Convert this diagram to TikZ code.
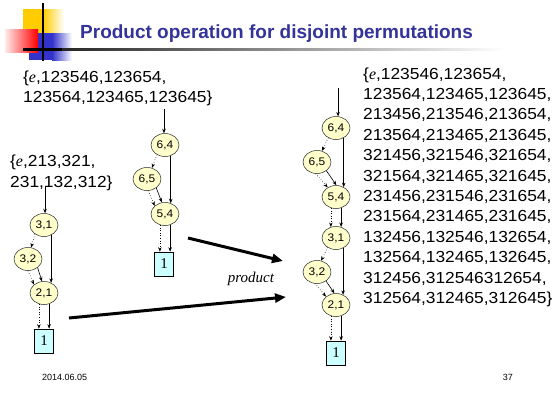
\documentclass[tikz,border=0pt]{standalone}
\usepackage{fontspec}
\setmainfont{Liberation Sans}
\newfontfamily\bodyfont[FakeStretch=1.085]{Liberation Sans}
\newfontfamily\serifrm{Liberation Serif}
\usetikzlibrary{shapes.geometric,arrows.meta,calc}

\definecolor{titleblue}{HTML}{333399}
\definecolor{pairfill}{HTML}{FFFFCC}
\definecolor{leaffill}{HTML}{CCFFFF}
\definecolor{decoyellow}{HTML}{FFCC00}
\definecolor{decored}{HTML}{FF0000}
\definecolor{decoblue}{HTML}{3333CC}

\newcommand{\ite}{{\serifrm\itshape e}}

\tikzset{
  pair/.style={ellipse, draw=black!85, line width=0.5pt, fill=pairfill,
    minimum width=28pt, minimum height=23pt, inner sep=0pt,
    font=\bodyfont\fontsize{11}{11}\selectfont},
  leaf/.style={rectangle, draw=black, line width=0.6pt, fill=leaffill,
    minimum width=19pt, minimum height=24pt, inner sep=0pt,
    font=\serifrm\fontsize{15}{15}\selectfont},
  hiedge/.style={-{Stealth[length=4.5pt,width=3.5pt]}, line width=0.6pt},
  loedge/.style={hiedge, dotted},
  bigarrow/.style={-{Triangle[length=11pt,width=9pt]}, line width=3pt},
  settext/.style={anchor=base west, inner sep=0pt,
    font=\bodyfont\fontsize{16}{16}\selectfont},
  footer/.style={inner sep=0pt, font=\fontsize{9}{9}\selectfont},
}

\begin{document}
\begin{tikzpicture}[x=1pt, y=-1pt]
\useasboundingbox (0,0) rectangle (557,394);
\fill[white] (0,0) rectangle (557,394);

% title block decoration
\fill[decoyellow] (23,9) rectangle (43,33);
\shade[left color=decoyellow, right color=white] (43,9) rectangle (64,33);
\fill[decoblue] (29,33) rectangle (52,60);
\shade[left color=decoblue, right color=white] (52,33) rectangle (72,60);
\shade[left color=decored!8, right color=decored] (5,29) rectangle (38,52);
\fill[black] (23,48) rectangle (62,50.5);
\shade[left color=black!85, right color=white] (62,48) rectangle (505,50.5);
\draw[line width=1.3pt] (43,3) -- (43,61);

\node[anchor=base west, inner sep=0pt, text=titleblue,
  font=\bfseries\fontsize{19}{19}\selectfont] (title) at (80,38)
  {Product operation for disjoint permutations};

% sets of permutations
\node[settext] (a1) at (23,82) {\{\ite,123546,123654,};
\node[settext] (a2) at (23,102.5) {123564,123465,123645\}};
\node[settext] (b1) at (10,166) {\{\ite,213,321,};
\node[settext] (b2) at (10,187) {231,132,312\}};

\node[settext] (c1) at (363,79) {\{\ite,123546,123654,};
\node[settext] (c2) at (363,99.4) {123564,123465,123645,};
\node[settext] (c3) at (363,119.8) {213456,213546,213654,};
\node[settext] (c4) at (363,140.2) {213564,213465,213645,};
\node[settext] (c5) at (363,160.6) {321456,321546,321654,};
\node[settext] (c6) at (363,181) {321564,321465,321645,};
\node[settext] (c7) at (363,201.4) {231456,231546,231654,};
\node[settext] (c8) at (363,221.8) {231564,231465,231645,};
\node[settext] (c9) at (363,242.2) {132456,132546,132654,};
\node[settext] (c10) at (363,262.6) {132564,132465,132645,};
\node[settext] (c11) at (363,283) {312456,312546312654,};
\node[settext] (c12) at (363,303.4) {312564,312465,312645\}};

% diagram of S3
\node[pair] (l31) at (44,225) {3,1};
\node[pair] (l32) at (28,259) {3,2};
\node[pair] (l21) at (44,293) {2,1};
\node[leaf] (l1) at (44,341) {1};
\path (l31.85) ++(0,-27) coordinate (lin);
\draw[hiedge] (lin) -- (l31.85);
\draw[loedge] (l31.-135) -- (l32.75);
\draw[hiedge] (l31.-55) -- (l21.55);
\draw[loedge] (l32.-90) -- (l21.140);
\draw[hiedge] (l32.-42) -- (l21.100);
\draw[loedge] (l21.-115) -- (l21.-115 |- l1.north);
\draw[hiedge] (l21.-65) -- (l21.-65 |- l1.north);

% diagram of the permutations of 4,5,6
\node[pair] (m64) at (165,145) {6,4};
\node[pair] (m65) at (147,179) {6,5};
\node[pair] (m54) at (165,214) {5,4};
\node[leaf] (m1) at (164,264) {1};
\path (m64.95) ++(0,-24) coordinate (min);
\draw[hiedge] (min) -- (m64.95);
\draw[loedge] (m64.-130) -- (m65.66);
\draw[hiedge] (m64.-62) -- (m54.62);
\draw[loedge] (m65.-84) -- (m54.142);
\draw[hiedge] (m65.-44) -- (m54.105);
\draw[loedge] (m54.-115) -- (m54.-115 |- m1.north);
\draw[hiedge] (m54.-65) -- (m54.-65 |- m1.north);

% diagram of the product
\node[pair] (r64) at (336,128) {6,4};
\node[pair] (r65) at (317,162) {6,5};
\node[pair] (r54) at (336,197) {5,4};
\node[pair] (r31) at (336,238) {3,1};
\node[pair] (r32) at (317,272) {3,2};
\node[pair] (r21) at (336,305) {2,1};
\node[leaf] (r1) at (336,353) {1};
\path (r64.80) ++(0,-28) coordinate (rin);
\draw[hiedge] (rin) -- (r64.80);
\draw[loedge] (r64.-128) -- (r65.66);
\draw[hiedge] (r64.-52) -- (r54.52);
\draw[loedge] (r65.-97) -- (r54.131);
\draw[hiedge] (r65.-43) -- (r54.88);
\draw[loedge] (r54.-115) -- (r31.115);
\draw[hiedge] (r54.-65) -- (r31.65);
\draw[loedge] (r31.-132) -- (r32.70);
\draw[hiedge] (r31.-55) -- (r21.55);
\draw[loedge] (r32.-100) -- (r21.140);
\draw[hiedge] (r32.-45) -- (r21.98);
\draw[loedge] (r21.-115) -- (r21.-115 |- r1.north);
\draw[hiedge] (r21.-65) -- (r21.-65 |- r1.north);

% product arrows
\coordinate (u0) at (188,238);
\coordinate (u1) at (283,261);
\coordinate (w0) at (69,318);
\coordinate (w1) at (286,297);
\draw[bigarrow] (u0) -- (u1);
\draw[bigarrow] (w0) -- (w1);
\node[inner sep=0pt, font=\serifrm\itshape\fontsize{15}{15}\selectfont] (prod) at (251,279) {product};

% footer
\node[footer, anchor=base west] (date) at (42,380) {2014.06.05};
\node[footer, anchor=base east] (page) at (513,380) {37};
\end{tikzpicture}
\end{document}
